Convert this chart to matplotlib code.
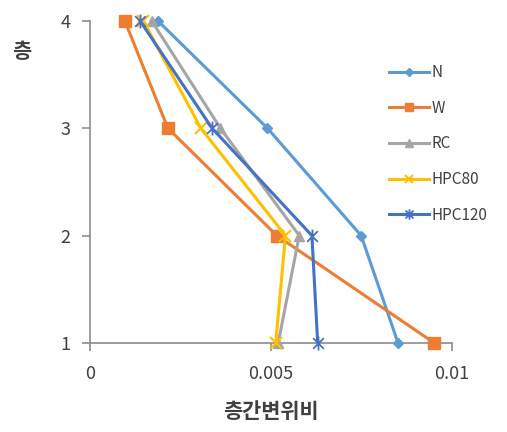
import matplotlib
matplotlib.use("Agg")
import matplotlib.pyplot as plt
from matplotlib.path import Path

plt.rcParams['font.family'] = ['Noto Sans CJK KR', 'DejaVu Sans']

# Story drift ratios per storey for each model
stories = [4, 3, 2, 1]
series_names = ["N", "W", "RC", "HPC80", "HPC120"]
drift_N = [0.00187, 0.00490, 0.00749, 0.00851]
drift_W = [0.00096, 0.00215, 0.00516, 0.00951]
drift_RC = [0.00170, 0.00360, 0.00578, 0.00520]
drift_HPC80 = [0.00147, 0.00306, 0.00540, 0.00513]
drift_HPC120 = [0.00138, 0.00337, 0.00613, 0.00629]

x_ticks = [0, 0.005, 0.01]
x_tick_labels = ["0", "0.005", "0.01"]
y_ticks = [1, 2, 3, 4]
y_tick_labels = ["1", "2", "3", "4"]

# Star marker: an "x" crossed with a vertical bar
star = Path(
    [(-1, -1), (1, 1), (-1, 1), (1, -1), (0, -1.3), (0, 1.3)],
    [Path.MOVETO, Path.LINETO, Path.MOVETO, Path.LINETO, Path.MOVETO, Path.LINETO],
)

styles = {
    "N": dict(color="#5B9BD5", marker="D", ms=5),
    "W": dict(color="#ED7D31", marker="s", ms=8),
    "RC": dict(color="#A5A5A5", marker="^", ms=7),
    "HPC80": dict(color="#FFC000", marker="x", ms=8, mew=1.5),
    "HPC120": dict(color="#4472C4", marker=star, ms=10, mew=1.3),
}
data = [drift_N, drift_W, drift_RC, drift_HPC80, drift_HPC120]

fig = plt.figure(figsize=(5.07, 4.32), dpi=100)
ax = fig.add_axes([90 / 507, 1 - 343 / 432, (452 - 90) / 507, (343 - 20.7) / 432])

for name, vals in zip(series_names, data):
    st = styles[name]
    ax.plot(vals, stories, color=st["color"], lw=2.2, marker=st["marker"],
            ms=st["ms"], mew=st.get("mew", 1), mfc=st["color"], mec=st["color"],
            label=name, clip_on=False, zorder=3)

ax.set_xlim(0, 0.01)
ax.set_ylim(1, 4)
ax.set_xticks(x_ticks)
ax.set_xticklabels(x_tick_labels)
ax.set_yticks(y_ticks)
ax.set_yticklabels(y_tick_labels)

for s in ["top", "right"]:
    ax.spines[s].set_visible(False)
for s in ["left", "bottom"]:
    ax.spines[s].set_color("#8C8C8C")
    ax.spines[s].set_linewidth(1.2)
ax.tick_params(axis="both", colors="#8C8C8C", labelcolor="#404040",
               labelsize=13, length=6, width=1.2, direction="out")
ax.tick_params(axis="x", pad=10)
ax.tick_params(axis="y", pad=8)

fig.text(271 / 507, 1 - 412 / 432, "층간변위비", ha="center", va="center",
         fontsize=15, fontweight="bold", color="#404040")
fig.text(22 / 507, 1 - 51 / 432, "층", ha="center", va="center",
         fontsize=15, fontweight="bold", color="#404040")

leg = ax.legend(loc="upper left", bbox_to_anchor=(389 / 507, 1 - 64 / 432),
                bbox_transform=fig.transFigure, frameon=False, fontsize=11,
                handlelength=2.6, handletextpad=0.2, labelspacing=1.22,
                borderaxespad=0, borderpad=0, markerscale=0.75)
for t in leg.get_texts():
    t.set_color("#404040")

fig.savefig("out.png", dpi=100)
